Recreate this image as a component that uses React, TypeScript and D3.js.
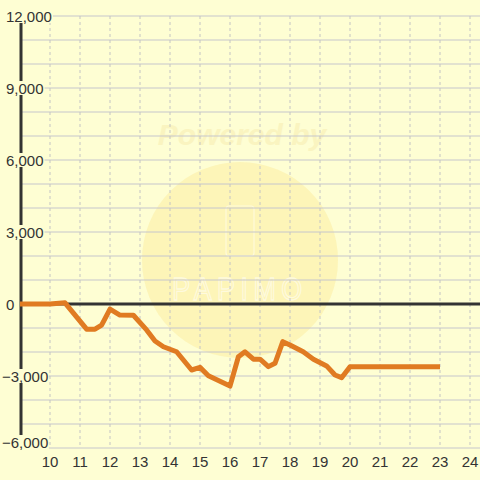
import React from "react";
import * as d3 from "d3";

const xs = [9.0, 10.0, 10.5, 11.22, 11.5, 11.72, 12.0, 12.33, 12.78, 13.22, 13.5, 13.78, 14.22, 14.72, 15.0, 15.28, 16.0, 16.28, 16.5, 16.78, 17.0, 17.28, 17.5, 17.76, 18.0, 18.44, 18.78, 19.22, 19.5, 19.72, 20.0, 23.0];
const ys = [0, 0, 50, -1050, -1050, -880, -210, -460, -470, -1080, -1540, -1780, -1990, -2750, -2640, -2990, -3420, -2200, -1990, -2300, -2300, -2610, -2470, -1570, -1710, -1990, -2300, -2580, -2960, -3070, -2610, -2610];
const xTicks = [10, 11, 12, 13, 14, 15, 16, 17, 18, 19, 20, 21, 22, 23, 24];
const yLabelTicks = [12000, 9000, 6000, 3000, 0, -3000, -6000];
const yGrid = d3.range(-6000, 12001, 1000);

const BG = "#fefed3";

function textWidth(s: string) {
  let w = 0;
  for (const c of s) w += c === "," ? 4.17 : c === "-" ? 5.0 : 8.34;
  return w;
}

export default function App() {
  const W = 480, H = 480;
  const x = d3.scaleLinear().domain([9, 24]).range([20, 470]);
  const y = d3.scaleLinear().domain([-6000, 12000]).range([448, 16]);
  const fmt = d3.format(",");
  const data = xs.map((v, i) => [v, ys[i]] as [number, number]);
  const line = d3.line<[number, number]>().x(d => x(d[0])).y(d => y(d[1]));

  return (
    <svg width={W} height={H} style={{ position: "absolute", left: 0, top: 0, display: "block" }} fontFamily="Liberation Sans, Arial, sans-serif">
      <rect x={0} y={0} width={W} height={H} fill={BG} />
      {/* watermark */}
      <g>
        <circle cx={240} cy={260} r={98} fill="#fcf1ac" opacity={0.7} />
        <text x={242} y={145} textAnchor="middle" fontSize={30} fontWeight="bold" fontStyle="italic" fill="#f8efb4" opacity={0.6}>Powered by</text>
        <rect x={226} y={206} width={28} height={50} rx={3} fill="none" stroke="#fffbe2" strokeWidth={1.2} opacity={0.8} />
        <text x={240} y={300} textAnchor="middle" fontSize={30} letterSpacing={6} fill="none" stroke="#fffbe2" strokeWidth={1.2} opacity={0.9} transform="translate(240,300) scale(0.9,1.05) translate(-240,-300)">PAPIMO</text>
      </g>
      {/* horizontal grid */}
      {yGrid.map(v => (
        <line key={"h" + v} x1={20} x2={W} y1={y(v)} y2={y(v)} stroke="#c6c6cc" strokeWidth={1} />
      ))}
      {/* vertical grid */}
      {xTicks.map(v => (
        <line key={"v" + v} x1={x(v)} x2={x(v)} y1={16} y2={448} stroke="#c4c4c4" strokeWidth={1} strokeDasharray="3,3" />
      ))}
      {/* axis and zero line */}
      <line x1={21} x2={21} y1={16} y2={448} stroke="#333" strokeWidth={3} />
      <line x1={20} x2={W} y1={y(0)} y2={y(0)} stroke="#333" strokeWidth={3} />
      {/* y labels */}
      {yLabelTicks.map(v => {
        const cy = v === -6000 ? y(v) - 6 : y(v);
        const s = fmt(v);
        const w = textWidth(s);
        const x0 = v < 0 ? 2 : 6;
        return (
          <g key={"yl" + v}>
            <rect x={x0 - 1} y={cy - 7} width={w + 2} height={14} fill={BG} />
            <text x={x0} y={cy + 5.5} textAnchor="start" fontSize={15} fill="#333">{s}</text>
          </g>
        );
      })}
      {/* data line */}
      <path d={line(data) || ""} fill="none" stroke="#e07b22" strokeWidth={5} strokeLinejoin="round" />
      {/* x labels */}
      {xTicks.map(v => (
        <text key={"xl" + v} x={x(v)} y={467} textAnchor="middle" fontSize={15} fill="#333">{v}</text>
      ))}
    </svg>
  );
}
